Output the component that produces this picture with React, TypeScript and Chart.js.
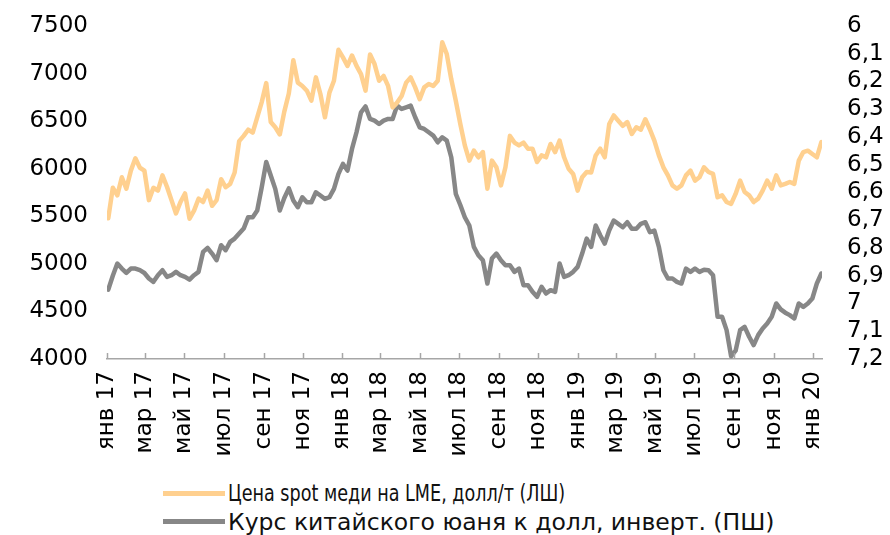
import React, { useEffect, useRef } from "react";
import { Chart, registerables } from "chart.js";

Chart.register(...registerables);

// Weekly observations starting 3 Jan 2017 (day 2 after 1 Jan 2017)
const FIRST_DAY = 2;
const STEP_DAYS = 7;

// LME spot copper, USD/t (left axis)
const copper: number[] = [
  5480, 5800, 5720, 5910, 5790, 5980, 6110, 6010, 5980, 5670,
  5800, 5770, 5930, 5810, 5670, 5530, 5650, 5740, 5475, 5560,
  5685, 5650, 5770, 5610, 5670, 5890, 5805, 5840, 5960, 6290,
  6345, 6410, 6380, 6540, 6700, 6900, 6490, 6435, 6360, 6600,
  6790, 7140, 6905, 6870, 6820, 6715, 6960, 6785, 6540, 6800,
  6925, 7250, 7170, 7080, 7190, 7080, 6995, 6820, 7200, 7100,
  6925, 6975, 6870, 6645, 6695, 6765, 6905, 6960, 6855, 6730,
  6855, 6890, 6870, 6925, 7330, 7205, 6940, 6715, 6470, 6245,
  6085, 6190, 6120, 6175, 5790, 6085, 6015, 5825, 6015, 6345,
  6275, 6245, 6275, 6210, 6210, 6070, 6140, 6120, 6260, 6175,
  6295, 6120, 6000, 5945, 5770, 5910, 5965, 5960, 6140, 6210,
  6120, 6470, 6560, 6505, 6450, 6490, 6365, 6435, 6410, 6520,
  6415, 6295, 6140, 6015, 5930, 5825, 5790, 5825, 5930, 5980,
  5875, 5910, 6015, 5965, 5945, 5700, 5720, 5650, 5630, 5735,
  5875, 5755, 5720, 5650, 5685, 5770, 5875, 5790, 5930, 5825,
  5840, 5860, 5840, 6085, 6175, 6190, 6155, 6120, 6280,
];

// CNY per USD, inverted (right axis)
const yuan: number[] = [
  6.95, 6.9, 6.856, 6.874, 6.89, 6.874, 6.874, 6.88, 6.89, 6.91,
  6.922, 6.898, 6.88, 6.904, 6.898, 6.886, 6.898, 6.904, 6.914, 6.898,
  6.886, 6.814, 6.8, 6.82, 6.844, 6.79, 6.808, 6.778, 6.766, 6.748,
  6.73, 6.689, 6.689, 6.665, 6.581, 6.49, 6.539, 6.587, 6.665, 6.62,
  6.585, 6.629, 6.653, 6.617, 6.635, 6.635, 6.599, 6.611, 6.623, 6.617,
  6.587, 6.533, 6.497, 6.521, 6.443, 6.383, 6.311, 6.29, 6.335, 6.341,
  6.353, 6.341, 6.335, 6.335, 6.287, 6.299, 6.293, 6.287, 6.329, 6.365,
  6.371, 6.383, 6.395, 6.419, 6.401, 6.413, 6.473, 6.605, 6.645, 6.689,
  6.719, 6.796, 6.826, 6.844, 6.928, 6.838, 6.82, 6.844, 6.862, 6.862,
  6.886, 6.874, 6.934, 6.934, 6.958, 6.976, 6.94, 6.964, 6.952, 6.958,
  6.856, 6.904, 6.898, 6.886, 6.868, 6.82, 6.766, 6.796, 6.719, 6.754,
  6.784, 6.736, 6.701, 6.713, 6.725, 6.707, 6.731, 6.731, 6.713, 6.707,
  6.743, 6.737, 6.796, 6.88, 6.91, 6.91, 6.922, 6.928, 6.874, 6.886,
  6.874, 6.886, 6.878, 6.88, 6.898, 7.048, 7.048, 7.096, 7.19, 7.17,
  7.096, 7.084, 7.12, 7.15, 7.114, 7.09, 7.072, 7.048, 7.0, 7.021,
  7.033, 7.042, 7.054, 7.0, 7.012, 7.0, 6.982, 6.928, 6.892,
];

// X tick marks: first day of every second month (Jan 2017 .. Jan 2020)
const tickMonths: [number, number][] = [
  [2017, 0], [2017, 2], [2017, 4], [2017, 6], [2017, 8], [2017, 10],
  [2018, 0], [2018, 2], [2018, 4], [2018, 6], [2018, 8], [2018, 10],
  [2019, 0], [2019, 2], [2019, 4], [2019, 6], [2019, 8], [2019, 10],
  [2020, 0],
];
const tickLabels: string[] = [
  "янв 17", "мар 17", "май 17", "июл 17", "сен 17", "ноя 17",
  "янв 18", "мар 18", "май 18", "июл 18", "сен 18", "ноя 18",
  "янв 19", "мар 19", "май 19", "июл 19", "сен 19", "ноя 19",
  "янв 20",
];

const leftMin = 4000;
const leftMax = 7500;
const leftStep = 500;
const rightMin = 6;
const rightMax = 7.2;
const rightStep = 0.1;

const legendLabels = [
  "Цена spot меди на LME, долл/т (ЛШ)",
  "Курс китайского юаня к долл, инверт. (ПШ)",
];

const ORANGE = "#FFD08F";
const GRAY = "#878787";
const AXIS = "#A6A6A6";

const DAY = 86400000;
const dayOf = (y: number, m: number) =>
  Math.round((Date.UTC(y, m, 1) - Date.UTC(2017, 0, 1)) / DAY);
const tickDays = tickMonths.map(([y, m]) => dayOf(y, m));

const innerTicks = {
  id: "innerTicks",
  afterDraw(chart: any) {
    const xs = chart.scales.x;
    const ctx = chart.ctx;
    const bottom = chart.chartArea.bottom;
    ctx.save();
    ctx.strokeStyle = AXIS;
    ctx.lineWidth = 1.5;
    tickDays.forEach((d) => {
      const px = Math.round(xs.getPixelForValue(d)) + 0.5;
      ctx.beginPath();
      ctx.moveTo(px, bottom);
      ctx.lineTo(px, bottom - 6);
      ctx.stroke();
    });
    ctx.restore();
  },
};

export default function App() {
  const ref = useRef<HTMLCanvasElement | null>(null);

  useEffect(() => {
    document.body.style.margin = "0";
    if (!ref.current) return;
    const copperPts = copper.map((v, i) => ({ x: FIRST_DAY + STEP_DAYS * i, y: v }));
    const yuanPts = yuan.map((v, i) => ({ x: FIRST_DAY + STEP_DAYS * i, y: v }));
    const lastDay = FIRST_DAY + STEP_DAYS * (copper.length - 1);
    const font = { family: "'DejaVu Sans', Verdana, sans-serif", size: 23 };

    const chart = new Chart(ref.current, {
      type: "line",
      data: {
        datasets: [
          {
            label: legendLabels[0],
            data: copperPts,
            yAxisID: "y",
            borderColor: ORANGE,
            borderWidth: 4.5,
            pointRadius: 0,
            tension: 0,
            borderJoinStyle: "round",
            borderCapStyle: "round",
          },
          {
            label: legendLabels[1],
            data: yuanPts,
            yAxisID: "y1",
            borderColor: GRAY,
            borderWidth: 4.5,
            pointRadius: 0,
            tension: 0,
            borderJoinStyle: "round",
            borderCapStyle: "round",
          },
        ],
      },
      options: {
        animation: false,
        responsive: false,
        layout: { padding: { top: 26, left: 0, right: 0, bottom: 0 } },
        plugins: { legend: { display: false }, tooltip: { enabled: false } },
        scales: {
          x: {
            type: "linear",
            min: 0,
            max: lastDay + 1,
            afterBuildTicks: (scale: any) => {
              scale.ticks = tickDays.map((v) => ({ value: v }));
            },
            afterFit: (scale: any) => {
              scale.height = 111;
            },
            grid: { display: false, drawTicks: false },
            border: { display: true, color: AXIS, width: 1.5 },
            ticks: {
              autoSkip: false,
              maxRotation: 90,
              minRotation: 90,
              padding: 12,
              color: "#000",
              font,
              callback: (_v: any, i: number) => tickLabels[i],
            },
          },
          y: {
            position: "left",
            min: leftMin,
            max: leftMax,
            afterFit: (scale: any) => {
              scale.width = 107;
            },
            grid: { display: false, drawTicks: true, tickLength: 8 },
            border: { display: false },
            ticks: {
              stepSize: leftStep,
              autoSkip: false,
              padding: 11,
              color: "#000",
              font,
              callback: (v: any) => String(v),
            },
          },
          y1: {
            position: "right",
            min: rightMin,
            max: rightMax,
            reverse: true,
            afterFit: (scale: any) => {
              scale.width = 68;
            },
            grid: { display: false, drawTicks: true, tickLength: 14 },
            border: { display: false },
            ticks: {
              stepSize: rightStep,
              autoSkip: false,
              padding: 11,
              color: "#000",
              font,
              callback: (v: any) =>
                String(Math.round(Number(v) * 10) / 10).replace(".", ","),
            },
          },
        },
      },
      plugins: [innerTicks],
    });
    return () => chart.destroy();
  }, []);

  const legendFonts = [
    { fontFamily: "'DejaVu Sans Condensed', 'DejaVu Sans', sans-serif", fontSize: 23, scale: 0.85 },
    { fontFamily: "'DejaVu Sans', sans-serif", fontSize: 23.5, scale: 1 },
  ];
  return (
    <div style={{ position: "relative", width: 890, height: 535, background: "#fff", overflow: "hidden" }}>
      <canvas ref={ref} width={890} height={470} style={{ display: "block", width: 890, height: 470 }} />
      {legendLabels.map((t, i) => (
        <div
          key={t}
          style={{
            position: "absolute",
            left: 163,
            top: 479 + i * 28.5,
            height: 28,
            display: "flex",
            alignItems: "center",
            whiteSpace: "nowrap",
          }}
        >
          <span
            style={{
              display: "inline-block",
              width: 62,
              height: 5,
              background: i === 0 ? ORANGE : GRAY,
              marginRight: 3,
            }}
          />
          <span
            style={{
              display: "inline-block",
              fontFamily: legendFonts[i].fontFamily,
              fontSize: legendFonts[i].fontSize,
              color: "#111",
              transform: `scaleX(${legendFonts[i].scale})`,
              transformOrigin: "left center",
            }}
          >
            {t}
          </span>
        </div>
      ))}
    </div>
  );
}
